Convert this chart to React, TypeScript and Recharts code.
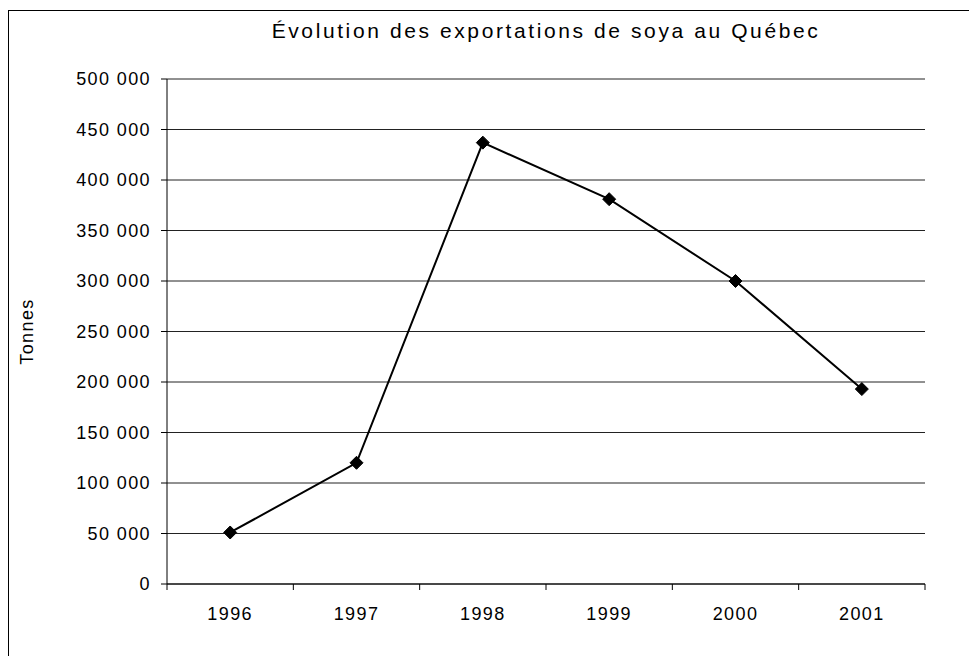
import React from "react";
import {
  LineChart,
  Line,
  XAxis,
  YAxis,
  CartesianGrid,
} from "recharts";

const years = ["1996", "1997", "1998", "1999", "2000", "2001"];
const tonnes = [51000, 120000, 437000, 381000, 300000, 193000];
const yTicks = [0, 50000, 100000, 150000, 200000, 250000, 300000, 350000, 400000, 450000, 500000];

const data = years.map((y, i) => ({ year: y, tonnes: tonnes[i] }));

const FONT = "'Liberation Sans', Arial, sans-serif";
const W = 969;
const H = 656;
const MARGIN = { top: 79, right: 44, bottom: 42, left: 67 };
const PLOT_W = W - MARGIN.left - MARGIN.right - 100;
const X_TICK_MARGIN = 23;
const LS = 1.4;

const fmt = (v: number) => String(v).replace(/\B(?=(\d{3})+(?!\d))/g, " ");

// Excel-style x axis: tick marks between categories, labels in the middle
const XTick = (props: any) => {
  const { x, y, payload, index } = props;
  const half = payload && payload.offset ? payload.offset : PLOT_W / years.length / 2;
  const axisY = y - X_TICK_MARGIN;
  return (
    <g>
      <line x1={x - half} x2={x - half} y1={axisY} y2={axisY + 6} stroke="#000" />
      {index === years.length - 1 && (
        <line x1={x + half} x2={x + half} y1={axisY} y2={axisY + 6} stroke="#000" />
      )}
      <text
        x={x}
        y={y}
        dy="0.71em"
        textAnchor="middle"
        fill="#000"
        fontSize={18}
        fontFamily={FONT}
        letterSpacing={LS}
      >
        {payload.value}
      </text>
    </g>
  );
};

const Diamond = (props: any) => {
  const { cx, cy } = props;
  if (cx == null || cy == null) return null;
  const r = 6.5;
  return (
    <polygon
      points={`${cx},${cy - r} ${cx + r},${cy} ${cx},${cy + r} ${cx - r},${cy}`}
      fill="#000"
      stroke="#000"
    />
  );
};

export default function App() {
  return (
    <div style={{ position: "absolute", left: 0, top: 0, width: W, height: H, background: "#fff" }}>
      <div
        style={{
          position: "absolute",
          left: 8,
          top: 10,
          width: W - 8,
          height: H - 10,
          borderLeft: "1px solid #000",
          borderTop: "1px solid #000",
        }}
      />
      <div
        style={{
          position: "absolute",
          left: MARGIN.left + 100,
          top: 20,
          width: PLOT_W,
          textAlign: "center",
          fontFamily: FONT,
          fontSize: 21,
          lineHeight: "21px",
          letterSpacing: 2.6,
          color: "#000",
        }}
      >
        Évolution des exportations de soya au Québec
      </div>
      <LineChart width={W} height={H} data={data} margin={MARGIN} style={{ position: "absolute", left: 0, top: 0 }}>
        <CartesianGrid vertical={false} stroke="#222" strokeOpacity={1} />
        <XAxis
          dataKey="year"
          scale="band"
          axisLine={{ stroke: "#000" }}
          tickLine={false}
          tickSize={0}
          tickMargin={X_TICK_MARGIN}
          tick={<XTick />}
          interval={0}
          height={30}
        />
        <YAxis
          domain={[0, 500000]}
          ticks={yTicks}
          tickFormatter={fmt}
          width={100}
          axisLine={{ stroke: "#000" }}
          tickLine={{ stroke: "#000" }}
          tickSize={6}
          tickMargin={10}
          tick={{ fill: "#000", fontSize: 18, fontFamily: FONT, letterSpacing: LS }}
          interval={0}
          label={{
            value: "Tonnes",
            angle: -90,
            position: "left",
            offset: 40,
            style: { textAnchor: "middle", fill: "#000", fontSize: 18, fontFamily: FONT, letterSpacing: LS },
          }}
        />
        <YAxis
          yAxisId="right"
          orientation="right"
          domain={[0, 500000]}
          width={0}
          tick={false}
          tickLine={false}
          axisLine={{ stroke: "#000" }}
        />
        <Line
          dataKey="tonnes"
          stroke="#000"
          strokeWidth={2}
          dot={<Diamond />}
          activeDot={false}
          isAnimationActive={false}
        />
      </LineChart>
    </div>
  );
}
